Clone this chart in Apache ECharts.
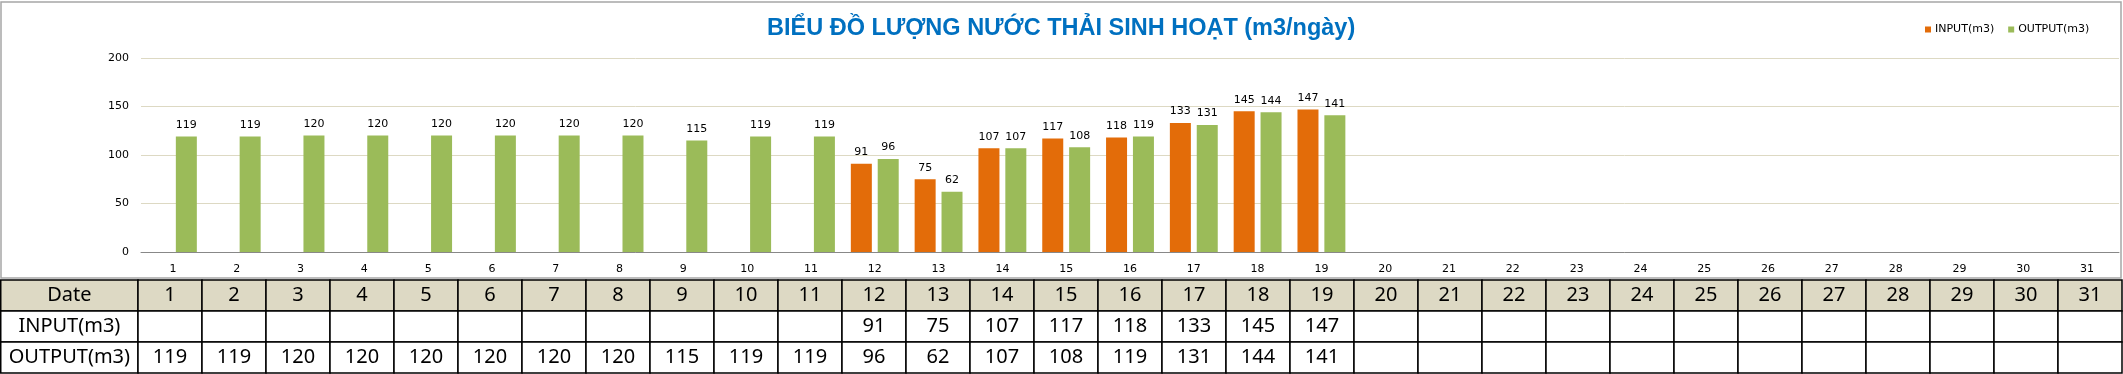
<!DOCTYPE html>
<html>
<head>
<meta charset="utf-8">
<script src="https://cdn.jsdelivr.net/npm/echarts@6/dist/echarts.min.js"></script>
<style>
html,body{margin:0;padding:0;background:#fff;}
#c{width:2123px;height:374px;}
</style>
</head>
<body>
<div id="c"></div>
<script>
// ---- data ----
const titleText = 'BIỂU ĐỒ LƯỢNG NƯỚC THẢI SINH HOẠT (m3/ngày)';
const days = ['1','2','3','4','5','6','7','8','9','10','11','12','13','14','15','16','17','18','19','20','21','22','23','24','25','26','27','28','29','30','31'];
const inputName = 'INPUT(m3)';
const outputName = 'OUTPUT(m3)';
const inputVals = [null,null,null,null,null,null,null,null,null,null,null,91,75,107,117,118,133,145,147,null,null,null,null,null,null,null,null,null,null,null,null];
const outputVals = [119,119,120,120,120,120,120,120,115,119,119,96,62,107,108,119,131,144,141,null,null,null,null,null,null,null,null,null,null,null,null];
const rowLabels = ['Date', 'INPUT(m3)', 'OUTPUT(m3)'];
const yTicks = [0, 50, 100, 150, 200];

// ---- table cells built from the arrays ----
const tableRows = [days, inputVals, outputVals];
const cellData = [];
const cellTexts = [];
rowLabels.forEach((lab, r) => {
  cellData.push([0, r, 1]);
  cellTexts.push(lab);
  tableRows[r].forEach((v, c) => {
    cellData.push([c, r, 0]);
    cellTexts.push(v == null ? '' : String(v));
  });
});

const chart = echarts.init(document.getElementById('c'), null, {renderer: 'canvas'});

const labelFont = {fontFamily: 'DejaVu Sans', fontSize: 11, color: '#000'};

const option = {
  backgroundColor: '#fff',
  animation: false,
  title: {
    text: titleText,
    left: 762,
    top: 12,
    textStyle: {fontFamily: 'Liberation Sans', fontWeight: 'bold', fontSize: 23.5, color: '#0070C0'}
  },
  legend: {
    left: 1920,
    top: 19,
    itemWidth: 6,
    itemHeight: 6,
    itemGap: 14,
    icon: 'rect',
    textStyle: {fontFamily: 'DejaVu Sans', fontSize: 11, color: '#000', padding: [0, 0, 0, -1]},
    data: [inputName, outputName]
  },
  graphic: [{
    type: 'rect',
    shape: {x: 1, y: 2, width: 2120, height: 276},
    style: {fill: 'none', stroke: '#A6A6A6', lineWidth: 1.5},
    silent: true
  }],
  grid: [
    {left: 141, right: 4, top: 58, height: 194},
    {left: 138, right: 1, top: 280, height: 93}
  ],
  xAxis: [
    {
      type: 'category', gridIndex: 0, data: days,
      axisLine: {show: true, lineStyle: {color: '#888', width: 1}},
      axisTick: {show: false},
      axisLabel: Object.assign({margin: 12, interval: 0}, labelFont)
    },
    {
      type: 'category', gridIndex: 1, data: days, show: false
    }
  ],
  yAxis: [
    {
      type: 'value', gridIndex: 0, min: yTicks[0], max: yTicks[yTicks.length - 1], interval: 50,
      axisLine: {show: false}, axisTick: {show: false},
      splitLine: {lineStyle: {color: '#DDD9C3', width: 1}},
      axisLabel: Object.assign({margin: 12}, labelFont)
    },
    {
      type: 'category', gridIndex: 1, data: rowLabels, inverse: true, show: false
    }
  ],
  series: [
    {
      name: inputName, type: 'bar', xAxisIndex: 0, yAxisIndex: 0,
      data: inputVals, barWidth: 21, barGap: '28%',
      itemStyle: {color: '#E36C09'},
      label: Object.assign({show: true, position: 'top', distance: 6}, labelFont)
    },
    {
      name: outputName, type: 'bar', xAxisIndex: 0, yAxisIndex: 0,
      data: outputVals, barWidth: 21, barGap: '28%',
      itemStyle: {color: '#9BBB59'},
      label: Object.assign({show: true, position: 'top', distance: 6}, labelFont)
    },
    {
      type: 'custom', xAxisIndex: 1, yAxisIndex: 1,
      data: cellData,
      silent: true,
      renderItem: function (params, api) {
        const c = api.value(0), r = api.value(1), isLab = api.value(2);
        const pt = api.coord([c, r]);
        const sz = api.size([1, 1]);
        const cs = params.coordSys;
        let x, w;
        if (isLab) { x = 0.75; w = cs.x - 0.75; }
        else { x = pt[0] - sz[0] / 2; w = sz[0]; }
        const y = pt[1] - sz[1] / 2, h = sz[1];
        const fill = r === 0 ? '#DDD9C4' : '#fff';
        return {
          type: 'group',
          children: [
            {type: 'rect', shape: {x: x, y: y, width: w, height: h},
             style: {fill: fill, stroke: '#000', lineWidth: 1.5}},
            {type: 'text', style: {
              text: cellTexts[params.dataIndex], x: x + w / 2, y: y + h / 2,
              align: 'center', verticalAlign: 'middle',
              font: '20px "Noto Sans"', fill: '#000'}}
          ]
        };
      }
    }
  ]
};
chart.setOption(option);
</script>
</body>
</html>
